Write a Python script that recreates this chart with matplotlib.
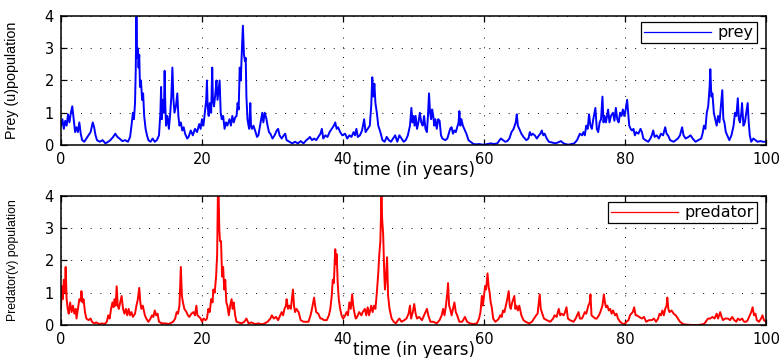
import matplotlib
matplotlib.use("Agg")
import matplotlib.pyplot as plt

# values: (time in years, population)
prey_pts = [
    (0.0, 0.6), (0.2, 0.8), (0.4, 0.5), (0.6, 0.75), (0.8, 0.6), (1.0, 0.95), (1.2, 0.7),
    (1.4, 1.0), (1.6, 1.2), (1.8, 0.8), (2.0, 0.4), (2.2, 0.55), (2.4, 0.4), (2.6, 0.7),
    (2.8, 0.35), (3.0, 0.15), (3.3, 0.1), (3.6, 0.2), (3.9, 0.3), (4.2, 0.4), (4.5, 0.7),
    (4.7, 0.55), (4.9, 0.3), (5.1, 0.15), (5.5, 0.1), (5.9, 0.15), (6.3, 0.05), (6.7, 0.1),
    (7.0, 0.15), (7.4, 0.25), (7.7, 0.35), (8.0, 0.25), (8.3, 0.2), (8.7, 0.12), (9.1, 0.15),
    (9.5, 0.1), (9.8, 0.25), (10.0, 0.6), (10.2, 1.0), (10.35, 0.8), (10.5, 1.3), (10.6, 2.3),
    (10.7, 4.0), (10.8, 2.7), (10.9, 3.0), (11.0, 2.4), (11.1, 2.8), (11.2, 1.8), (11.35, 2.0),
    (11.5, 1.4), (11.65, 1.6), (11.8, 0.9), (12.0, 0.5), (12.2, 0.3), (12.4, 0.15), (12.7, 0.1),
    (13.0, 0.2), (13.3, 0.1), (13.6, 0.15), (13.9, 0.3), (14.1, 1.0), (14.2, 1.8), (14.3, 0.8),
    (14.45, 1.4), (14.6, 1.0), (14.7, 2.3), (14.8, 1.2), (14.9, 0.6), (15.1, 0.9), (15.3, 0.5),
    (15.5, 1.0), (15.65, 1.5), (15.8, 2.4), (15.95, 1.4), (16.1, 1.0), (16.3, 1.2), (16.5, 1.6),
    (16.65, 0.9), (16.8, 0.6), (17.0, 0.7), (17.2, 0.45), (17.4, 0.55), (17.6, 0.35), (17.9, 0.2),
    (18.1, 0.25), (18.4, 0.45), (18.7, 0.3), (19.0, 0.5), (19.3, 0.4), (19.6, 0.65), (19.8, 0.5),
    (20.0, 0.8), (20.2, 0.6), (20.4, 1.0), (20.6, 1.4), (20.7, 2.0), (20.8, 1.2), (20.95, 0.9),
    (21.1, 1.3), (21.3, 1.0), (21.45, 2.4), (21.55, 1.4), (21.7, 1.2), (21.9, 1.6), (22.05, 2.0),
    (22.2, 1.4), (22.35, 1.7), (22.5, 2.0), (22.65, 1.0), (22.8, 0.8), (23.0, 0.9), (23.2, 0.5),
    (23.4, 0.7), (23.6, 0.6), (23.9, 0.8), (24.1, 0.6), (24.3, 0.9), (24.5, 0.7), (24.7, 0.85),
    (24.9, 0.9), (25.05, 1.3), (25.2, 1.1), (25.35, 2.4), (25.5, 2.0), (25.65, 2.9), (25.8, 3.7),
    (25.95, 2.8), (26.1, 2.6), (26.2, 2.7), (26.3, 1.5), (26.45, 0.8), (26.6, 0.6), (26.7, 0.5),
    (26.85, 1.3), (26.95, 0.6), (27.1, 0.5), (27.3, 0.6), (27.6, 0.4), (27.8, 0.25), (28.0, 0.3),
    (28.2, 0.55), (28.4, 0.8), (28.55, 1.0), (28.7, 0.7), (28.9, 1.0), (29.1, 0.85), (29.3, 0.6),
    (29.5, 0.4), (29.7, 0.35), (30.0, 0.2), (30.3, 0.3), (30.6, 0.45), (30.8, 0.5), (31.0, 0.3),
    (31.3, 0.2), (31.6, 0.3), (31.8, 0.35), (32.0, 0.15), (32.4, 0.1), (32.8, 0.05), (33.2, 0.1),
    (33.6, 0.05), (34.0, 0.12), (34.4, 0.05), (34.8, 0.15), (35.1, 0.2), (35.3, 0.25), (35.6, 0.15),
    (35.9, 0.2), (36.2, 0.15), (36.5, 0.25), (36.8, 0.35), (37.0, 0.5), (37.2, 0.2), (37.5, 0.3),
    (37.8, 0.25), (38.1, 0.4), (38.4, 0.5), (38.7, 0.6), (38.9, 0.7), (39.1, 0.5), (39.3, 0.55),
    (39.6, 0.4), (39.9, 0.3), (40.3, 0.35), (40.6, 0.2), (40.9, 0.3), (41.2, 0.25), (41.5, 0.4),
    (41.7, 0.3), (41.9, 0.5), (42.1, 0.25), (42.4, 0.3), (42.7, 0.45), (43.0, 0.8), (43.2, 0.4),
    (43.5, 0.5), (43.8, 0.6), (44.0, 1.2), (44.15, 2.1), (44.3, 1.5), (44.45, 1.9), (44.6, 1.3),
    (44.8, 1.0), (45.0, 0.6), (45.3, 0.4), (45.6, 0.15), (45.9, 0.1), (46.2, 0.25), (46.5, 0.15),
    (46.8, 0.1), (47.1, 0.2), (47.4, 0.3), (47.7, 0.1), (48.0, 0.3), (48.3, 0.2), (48.6, 0.1),
    (48.9, 0.15), (49.2, 0.3), (49.5, 0.6), (49.7, 1.15), (49.85, 0.7), (50.0, 0.9), (50.15, 0.6),
    (50.3, 0.9), (50.5, 0.5), (50.7, 0.7), (50.9, 1.0), (51.1, 0.7), (51.3, 0.6), (51.5, 0.9),
    (51.7, 0.5), (51.9, 0.4), (52.05, 0.9), (52.2, 1.6), (52.35, 1.0), (52.5, 0.8), (52.65, 1.1),
    (52.8, 0.9), (52.95, 0.6), (53.1, 0.8), (53.3, 0.5), (53.5, 0.8), (53.7, 0.75), (53.9, 0.3),
    (54.1, 0.2), (54.5, 0.15), (54.8, 0.2), (55.0, 0.35), (55.2, 0.5), (55.4, 0.55), (55.6, 0.35),
    (55.8, 0.45), (56.0, 0.4), (56.2, 0.55), (56.4, 0.7), (56.5, 1.05), (56.65, 0.6), (56.8, 0.8),
    (57.0, 0.6), (57.2, 0.5), (57.5, 0.35), (57.8, 0.15), (58.1, 0.1), (58.5, 0.03), (58.9, 0.02),
    (59.3, 0.03), (59.8, 0.01), (60.3, 0.02), (60.7, 0.04), (61.0, 0.05), (61.4, 0.03), (61.9, 0.05),
    (62.2, 0.15), (62.4, 0.2), (62.7, 0.15), (63.0, 0.1), (63.3, 0.12), (63.6, 0.2), (63.9, 0.4),
    (64.2, 0.5), (64.5, 0.7), (64.65, 0.95), (64.8, 0.6), (65.0, 0.5), (65.3, 0.35), (65.6, 0.25),
    (66.0, 0.15), (66.3, 0.2), (66.5, 0.4), (66.7, 0.3), (66.9, 0.35), (67.2, 0.3), (67.5, 0.2),
    (67.8, 0.3), (68.0, 0.35), (68.2, 0.45), (68.4, 0.3), (68.6, 0.35), (68.9, 0.2), (69.2, 0.1),
    (69.6, 0.08), (70.1, 0.05), (70.5, 0.08), (70.9, 0.12), (71.3, 0.05), (71.7, 0.02), (72.0, 0.01),
    (72.4, 0.03), (72.8, 0.05), (73.2, 0.15), (73.6, 0.35), (73.9, 0.3), (74.1, 0.4), (74.3, 0.3),
    (74.5, 0.6), (74.7, 0.5), (74.9, 0.95), (75.1, 0.6), (75.3, 0.5), (75.5, 0.8), (75.8, 1.15),
    (76.0, 0.5), (76.2, 0.4), (76.4, 0.7), (76.6, 0.8), (76.8, 1.5), (76.95, 0.7), (77.1, 0.9),
    (77.3, 0.7), (77.6, 1.1), (77.8, 0.7), (78.0, 0.9), (78.3, 1.0), (78.5, 0.75), (78.7, 1.15),
    (78.9, 0.8), (79.1, 0.7), (79.3, 1.0), (79.5, 0.9), (79.7, 1.1), (79.9, 0.9), (80.1, 1.1),
    (80.3, 1.4), (80.45, 1.0), (80.6, 0.6), (80.8, 0.5), (81.0, 0.45), (81.2, 0.5), (81.4, 0.3),
    (81.6, 0.4), (81.9, 0.35), (82.2, 0.5), (82.4, 0.4), (82.6, 0.2), (82.9, 0.15), (83.3, 0.1),
    (83.6, 0.2), (83.8, 0.3), (84.0, 0.45), (84.2, 0.25), (84.5, 0.3), (84.8, 0.2), (85.1, 0.35),
    (85.4, 0.3), (85.7, 0.55), (85.9, 0.35), (86.1, 0.3), (86.4, 0.15), (86.9, 0.1), (87.2, 0.15),
    (87.5, 0.2), (87.8, 0.3), (88.1, 0.55), (88.3, 0.3), (88.6, 0.2), (89.0, 0.25), (89.3, 0.3),
    (89.6, 0.2), (90.0, 0.1), (90.4, 0.15), (90.8, 0.2), (91.0, 0.35), (91.2, 0.6), (91.4, 0.5),
    (91.6, 1.0), (91.8, 1.2), (92.0, 1.8), (92.1, 2.35), (92.25, 1.5), (92.4, 1.6), (92.6, 1.0),
    (92.8, 0.8), (93.0, 0.6), (93.2, 0.9), (93.4, 0.7), (93.6, 1.2), (93.8, 1.7), (93.95, 0.8),
    (94.1, 0.7), (94.3, 0.4), (94.5, 0.3), (94.8, 0.15), (95.1, 0.3), (95.4, 0.6), (95.6, 1.0),
    (95.8, 0.9), (96.0, 1.45), (96.15, 0.8), (96.3, 0.7), (96.5, 1.0), (96.6, 1.3), (96.8, 0.6),
    (97.0, 0.7), (97.2, 1.0), (97.4, 1.3), (97.55, 0.7), (97.7, 0.3), (97.9, 0.1), (98.2, 0.2),
    (98.5, 0.15), (98.8, 0.1), (99.2, 0.12), (99.6, 0.1), (100.0, 0.1),
]

pred_pts = [
    (0.0, 0.5), (0.1, 1.2), (0.25, 0.8), (0.4, 1.4), (0.55, 1.0), (0.66, 1.8), (0.8, 0.8),
    (0.95, 0.5), (1.1, 0.35), (1.3, 0.7), (1.5, 0.4), (1.7, 0.6), (1.9, 0.35), (2.1, 0.5),
    (2.2, 0.2), (2.4, 0.5), (2.6, 0.8), (2.8, 0.75), (2.9, 1.05), (3.05, 0.7), (3.2, 0.8),
    (3.4, 0.4), (3.6, 0.2), (3.9, 0.15), (4.2, 0.2), (4.4, 0.1), (4.7, 0.05), (5.0, 0.08),
    (5.4, 0.03), (5.8, 0.05), (6.2, 0.03), (6.5, 0.1), (6.7, 0.3), (6.9, 0.2), (7.1, 0.5),
    (7.3, 0.7), (7.45, 0.55), (7.6, 0.8), (7.75, 0.6), (7.9, 1.2), (8.05, 0.6), (8.2, 0.5),
    (8.4, 0.7), (8.6, 0.9), (8.8, 0.5), (9.0, 0.35), (9.2, 0.5), (9.4, 0.3), (9.6, 0.5),
    (9.8, 0.3), (10.0, 0.4), (10.2, 0.25), (10.5, 0.35), (10.7, 0.6), (10.9, 0.8), (11.1, 1.15),
    (11.25, 0.7), (11.4, 0.5), (11.6, 0.6), (11.9, 0.3), (12.1, 0.2), (12.4, 0.1), (12.7, 0.2),
    (12.9, 0.3), (13.1, 0.25), (13.3, 0.45), (13.5, 0.3), (13.7, 0.35), (13.9, 0.1), (14.3, 0.05),
    (14.8, 0.05), (15.3, 0.03), (15.9, 0.1), (16.2, 0.2), (16.4, 0.4), (16.6, 0.35), (16.8, 0.6),
    (17.0, 1.8), (17.15, 0.9), (17.3, 0.7), (17.5, 0.5), (17.8, 0.4), (18.0, 0.3), (18.2, 0.25),
    (18.5, 0.35), (18.8, 0.4), (19.0, 0.3), (19.2, 0.6), (19.35, 0.3), (19.6, 0.25), (19.8, 0.2),
    (20.0, 0.1), (20.2, 0.2), (20.5, 0.15), (20.7, 0.2), (20.9, 0.5), (21.1, 0.4), (21.3, 0.8),
    (21.5, 0.7), (21.6, 1.1), (21.8, 1.0), (22.0, 1.5), (22.15, 2.2), (22.25, 4.0), (22.35, 4.2),
    (22.45, 3.0), (22.55, 2.6), (22.7, 2.6), (22.85, 1.5), (23.0, 1.8), (23.15, 1.1), (23.3, 1.4),
    (23.45, 0.7), (23.6, 0.6), (23.8, 0.3), (24.0, 0.6), (24.2, 0.8), (24.35, 0.5), (24.5, 0.7),
    (24.7, 0.3), (24.9, 0.1), (25.2, 0.08), (25.6, 0.05), (26.0, 0.1), (26.3, 0.2), (26.6, 0.05),
    (27.0, 0.08), (27.5, 0.03), (28.0, 0.05), (28.5, 0.02), (28.9, 0.05), (29.3, 0.1), (29.7, 0.2),
    (29.9, 0.3), (30.2, 0.2), (30.5, 0.25), (30.8, 0.15), (31.1, 0.3), (31.3, 0.4), (31.5, 0.3),
    (31.7, 0.5), (31.9, 0.6), (32.0, 0.8), (32.2, 0.5), (32.4, 0.6), (32.6, 0.5), (32.9, 1.1),
    (33.05, 0.6), (33.2, 0.4), (33.4, 0.5), (33.7, 0.4), (34.0, 0.15), (34.4, 0.1), (34.8, 0.1),
    (35.1, 0.1), (35.4, 0.3), (35.6, 0.5), (35.9, 0.85), (36.05, 0.6), (36.2, 0.4), (36.5, 0.35),
    (36.8, 0.2), (37.0, 0.2), (37.3, 0.15), (37.7, 0.15), (38.0, 0.3), (38.2, 0.5), (38.4, 0.9),
    (38.55, 1.4), (38.7, 1.3), (38.9, 2.35), (39.0, 1.9), (39.1, 2.2), (39.25, 1.3), (39.4, 0.8),
    (39.6, 0.5), (39.8, 0.3), (40.0, 0.2), (40.2, 0.25), (40.5, 0.4), (40.7, 0.3), (40.9, 0.7),
    (41.1, 0.5), (41.3, 0.95), (41.45, 0.6), (41.6, 0.4), (41.8, 0.2), (42.0, 0.25), (42.3, 0.4),
    (42.6, 0.3), (42.8, 0.4), (43.1, 0.5), (43.3, 0.3), (43.5, 0.55), (43.7, 0.3), (44.0, 0.6),
    (44.2, 0.4), (44.4, 0.6), (44.6, 0.5), (44.8, 1.0), (45.0, 1.6), (45.15, 2.2), (45.3, 2.6),
    (45.45, 4.0), (45.55, 3.3), (45.7, 2.8), (45.85, 1.6), (45.95, 1.1), (46.1, 1.5), (46.25, 2.1),
    (46.4, 0.9), (46.6, 0.5), (46.9, 0.2), (47.2, 0.1), (47.5, 0.05), (47.8, 0.15), (48.0, 0.2),
    (48.3, 0.1), (48.7, 0.15), (49.0, 0.2), (49.3, 0.35), (49.5, 0.6), (49.65, 0.2), (49.9, 0.4),
    (50.1, 0.65), (50.3, 0.35), (50.5, 0.2), (50.8, 0.25), (51.2, 0.15), (51.5, 0.3), (51.7, 0.4),
    (51.9, 0.5), (52.1, 0.3), (52.4, 0.1), (52.8, 0.1), (53.3, 0.05), (53.7, 0.15), (54.0, 0.3),
    (54.2, 0.5), (54.4, 0.3), (54.6, 0.6), (54.8, 1.0), (54.9, 1.3), (55.05, 0.6), (55.2, 0.5),
    (55.4, 0.3), (55.6, 0.5), (55.8, 0.7), (56.0, 0.4), (56.2, 0.3), (56.5, 0.1), (56.9, 0.1),
    (57.3, 0.25), (57.6, 0.1), (58.0, 0.05), (58.5, 0.03), (59.0, 0.05), (59.3, 0.2), (59.5, 0.4),
    (59.7, 0.9), (59.85, 0.6), (60.0, 0.9), (60.15, 1.2), (60.3, 1.1), (60.5, 1.6), (60.65, 1.2),
    (60.8, 1.0), (60.95, 0.7), (61.1, 0.55), (61.3, 0.2), (61.6, 0.1), (61.9, 0.15), (62.1, 0.2),
    (62.3, 0.3), (62.5, 0.25), (62.7, 0.45), (62.9, 0.4), (63.1, 0.6), (63.3, 0.8), (63.5, 1.05),
    (63.65, 0.6), (63.8, 0.5), (64.0, 0.7), (64.3, 0.9), (64.45, 0.5), (64.6, 0.6), (64.8, 0.45),
    (65.0, 0.6), (65.3, 0.3), (65.6, 0.15), (65.9, 0.1), (66.4, 0.05), (66.8, 0.1), (67.1, 0.2),
    (67.4, 0.3), (67.6, 0.35), (67.9, 0.95), (68.05, 0.5), (68.2, 0.4), (68.5, 0.2), (68.9, 0.15),
    (69.4, 0.1), (69.8, 0.2), (70.0, 0.3), (70.3, 0.25), (70.6, 0.5), (70.8, 0.3), (71.0, 0.35),
    (71.3, 0.3), (71.5, 0.4), (71.7, 0.55), (71.9, 0.2), (72.2, 0.15), (72.7, 0.1), (73.0, 0.2),
    (73.2, 0.3), (73.4, 0.4), (73.6, 0.2), (73.9, 0.2), (74.1, 0.3), (74.3, 0.4), (74.5, 0.35),
    (74.8, 0.6), (75.0, 0.7), (75.1, 0.95), (75.25, 0.3), (75.5, 0.25), (75.8, 0.2), (76.0, 0.2),
    (76.3, 0.3), (76.5, 0.4), (76.8, 0.6), (77.0, 0.95), (77.15, 0.7), (77.3, 0.55), (77.5, 0.6),
    (77.7, 0.45), (77.9, 0.5), (78.1, 0.35), (78.3, 0.45), (78.6, 0.3), (78.8, 0.35), (79.0, 0.2),
    (79.3, 0.1), (79.6, 0.05), (79.9, 0.02), (80.2, 0.1), (80.5, 0.15), (80.7, 0.3), (80.9, 0.35),
    (81.1, 0.4), (81.3, 0.55), (81.5, 0.3), (81.7, 0.3), (82.0, 0.25), (82.4, 0.2), (82.7, 0.25),
    (83.0, 0.1), (83.4, 0.15), (83.8, 0.15), (84.1, 0.2), (84.4, 0.1), (84.7, 0.2), (84.9, 0.35),
    (85.1, 0.3), (85.3, 0.45), (85.5, 0.3), (85.7, 0.5), (85.9, 0.6), (86.0, 0.85), (86.15, 0.5),
    (86.3, 0.4), (86.6, 0.45), (86.9, 0.35), (87.2, 0.3), (87.5, 0.2), (87.8, 0.1), (88.3, 0.02),
    (88.8, 0.01), (89.5, 0.0), (90.4, 0.0), (91.0, 0.02), (91.3, 0.05), (91.6, 0.15), (91.8, 0.2),
    (92.1, 0.2), (92.4, 0.25), (92.7, 0.2), (93.0, 0.35), (93.2, 0.2), (93.5, 0.4), (93.7, 0.25),
    (93.9, 0.15), (94.2, 0.2), (94.6, 0.2), (94.9, 0.15), (95.2, 0.25), (95.5, 0.15), (95.8, 0.1),
    (96.0, 0.2), (96.3, 0.15), (96.6, 0.2), (96.9, 0.1), (97.2, 0.1), (97.4, 0.15), (97.7, 0.3),
    (97.9, 0.4), (98.1, 0.55), (98.3, 0.3), (98.5, 0.35), (98.7, 0.15), (99.0, 0.1), (99.3, 0.2),
    (99.5, 0.3), (99.7, 0.15), (100.0, 0.1),
]

x_ticks = [0, 20, 40, 60, 80, 100]
y_ticks = [0, 1, 2, 3, 4]

prey_t, prey_u = zip(*prey_pts)
pred_t, pred_v = zip(*pred_pts)

plt.rcParams['font.family'] = ['DejaVu Sans']

fig = plt.figure(figsize=(7.83, 3.58), dpi=100)
ax1 = fig.add_axes([0.0779, 0.5950, 0.9004, 0.3603])
ax2 = fig.add_axes([0.0779, 0.0922, 0.9004, 0.3603])

panels = [
    (ax1, prey_t, prey_u, '#0000ff', 'prey', 'Prey (u)population', 10.3),
    (ax2, pred_t, pred_v, '#ff0000', 'predator', 'Predator(v) population', 8.8),
]

for ax, t, v, col, name, ylab, ysize in panels:
    ax.plot(t, v, color=col, lw=1.4, label=name)
    ax.set_xlim(0, 100)
    ax.set_ylim(0, 4)
    ax.set_xticks(x_ticks)
    ax.set_yticks(y_ticks)
    ax.grid(True, linestyle=(0, (1, 9)), color='black', lw=0.7)
    ax.tick_params(direction='in', top=True, right=True, length=4, width=0.9,
                   labelsize=10.5, pad=5)
    for s in ax.spines.values():
        s.set_linewidth(1.1)
    ax.set_xlabel('time (in years)', fontsize=12)
    ax.xaxis.set_label_coords(0.5, -0.122)
    ax.set_ylabel(ylab, fontsize=ysize, family='Liberation Sans')
    ax.yaxis.set_label_coords(-0.059, 0.5)
    leg = ax.legend(loc='upper right', bbox_to_anchor=(0.987, 0.953), borderaxespad=0,
                    fancybox=False, framealpha=1, edgecolor='black', fontsize=11.5,
                    handlelength=4.2, handletextpad=0.4, borderpad=0.2)
    leg.get_frame().set_linewidth(0.9)
    leg.get_lines()[0].set_linewidth(0.9)

fig.savefig('out.png', dpi=100)
